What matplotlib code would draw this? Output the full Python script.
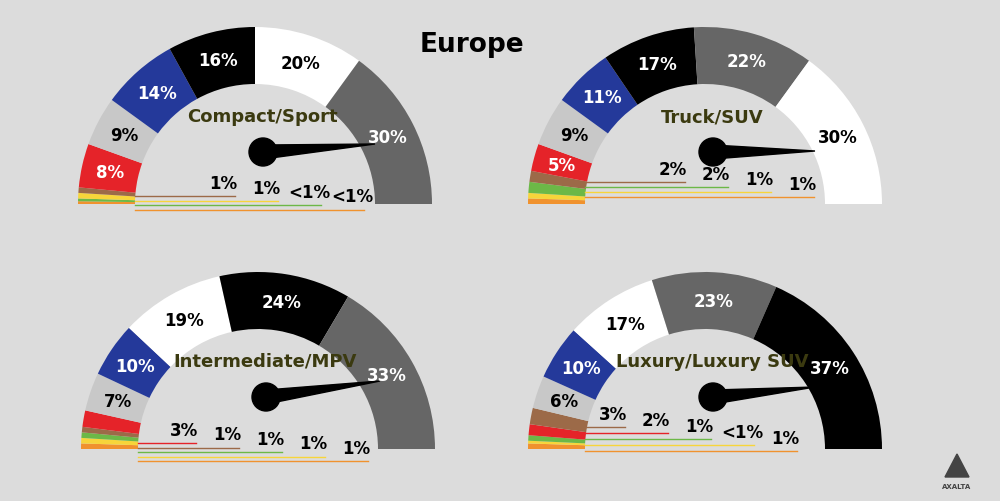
import math
import matplotlib
matplotlib.use("Agg")
import matplotlib.pyplot as plt
from matplotlib.patches import Wedge, Circle, Polygon

colors_map = {"orange": "#f0922e", "green": "#6cb847", "yellow": "#f7d53a", "brown": "#9c6a48",
              "red": "#e52329", "silver": "#c8c8c8", "blue": "#24399a", "black": "#000000",
              "white": "#ffffff", "gray": "#666666"}

titles = ["Compact/Sport", "Truck/SUV", "Intermediate/MPV", "Luxury/Luxury SUV"]
seg_colors = [
    ["orange", "green", "yellow", "brown", "red", "silver", "blue", "black", "white", "gray"],
    ["orange", "yellow", "green", "brown", "red", "silver", "blue", "black", "gray", "white"],
    ["orange", "yellow", "green", "brown", "red", "silver", "blue", "white", "black", "gray"],
    ["orange", "yellow", "green", "red", "brown", "silver", "blue", "white", "gray", "black"],
]
seg_values = [
    [0.5, 0.5, 1, 1, 8, 9, 14, 16, 20, 30],
    [1, 1, 2, 2, 5, 9, 11, 17, 22, 30],
    [1, 1, 1, 1, 3, 7, 10, 19, 24, 33],
    [1, 0.5, 1, 2, 3, 6, 10, 17, 23, 37],
]
seg_labels = [
    ["<1%", "<1%", "1%", "1%", "8%", "9%", "14%", "16%", "20%", "30%"],
    ["1%", "1%", "2%", "2%", "5%", "9%", "11%", "17%", "22%", "30%"],
    ["1%", "1%", "1%", "1%", "3%", "7%", "10%", "19%", "24%", "33%"],
    ["1%", "<1%", "1%", "2%", "3%", "6%", "10%", "17%", "23%", "37%"],
]
n_small = [4, 4, 5, 5]

centers = [(255, 205), (705, 205), (258, 450), (705, 450)]
needle_tips = [(375, 145), (815, 152), (380, 382), (815, 388)]
line_start = [100, 100, 58, 40]
line_top = [8, 22, 6, 22]
line_gap = [4.5, 5, 4.5, 6]

H = 502
fig = plt.figure(figsize=(10, 5.02), dpi=100)
fig.patch.set_facecolor("#dcdcdc")
ax = fig.add_axes([0, 0, 1, 1])
ax.set_xlim(0, 1000); ax.set_ylim(0, H); ax.axis("off")

R, W = 177, 57
light_text = {"red", "blue", "black", "gray"}
for g in range(4):
    cx, cyp = centers[g]
    cy = H - cyp
    vals = seg_values[g]; tot = sum(vals)
    ang = 180.0
    small = []
    for i, (v, cn, lab) in enumerate(zip(vals, seg_colors[g], seg_labels[g])):
        d = 180.0 * v / tot
        ax.add_patch(Wedge((cx, cy), R, ang - d, ang, width=W, facecolor=colors_map[cn], edgecolor="none"))
        mid = ang - d / 2
        if i >= n_small[g]:
            rr = R - W / 2
            tx = cx + rr * math.cos(math.radians(mid)); ty = cy + rr * math.sin(math.radians(mid))
            ax.text(tx, ty, lab, ha="center", va="center", fontsize=12, fontweight="bold",
                    color="white" if cn in light_text else "black")
        else:
            small.append((mid, cn, lab))
        ang -= d
    small_sorted = sorted(small, key=lambda s: s[0])
    x0 = cx - R + W
    for k, (m, cn, lab) in enumerate(small_sorted):
        ly = cy + line_top[g] - k * line_gap[g]
        x1 = x0 + line_start[g] + k * 43
        ax.plot([x0, x1], [ly, ly], color=colors_map[cn], lw=1)
        ax.text(x1 - 12, ly + 4, lab, ha="center", va="bottom", fontsize=12, fontweight="bold", color="black")
    px, py = cx + 8, cy + 52
    tx, ty = needle_tips[g]; ty = H - ty
    dx, dy = tx - px, ty - py; L = math.hypot(dx, dy)
    nx, ny = -dy / L, dx / L
    ax.add_patch(Polygon([(px + nx * 7, py + ny * 7), (tx, ty), (px - nx * 7, py - ny * 7)], closed=True, color="black"))
    ax.add_patch(Circle((px, py), 14, color="black"))
    ax.text(cx + 7, cy + 88, titles[g], ha="center", va="center", fontsize=13, fontweight="bold", color="#3b3a10")

ax.text(472, H - 45, "Europe", ha="center", va="center", fontsize=19, fontweight="bold", color="black")
ax.add_patch(Polygon([(957, H - 455), (969, H - 478), (945, H - 478)], closed=True, color="#444444"))
ax.text(957, H - 487, "AXALTA", ha="center", va="center", fontsize=5, fontweight="bold", color="#444444")
fig.savefig("out.png", dpi=100, facecolor=fig.get_facecolor())
